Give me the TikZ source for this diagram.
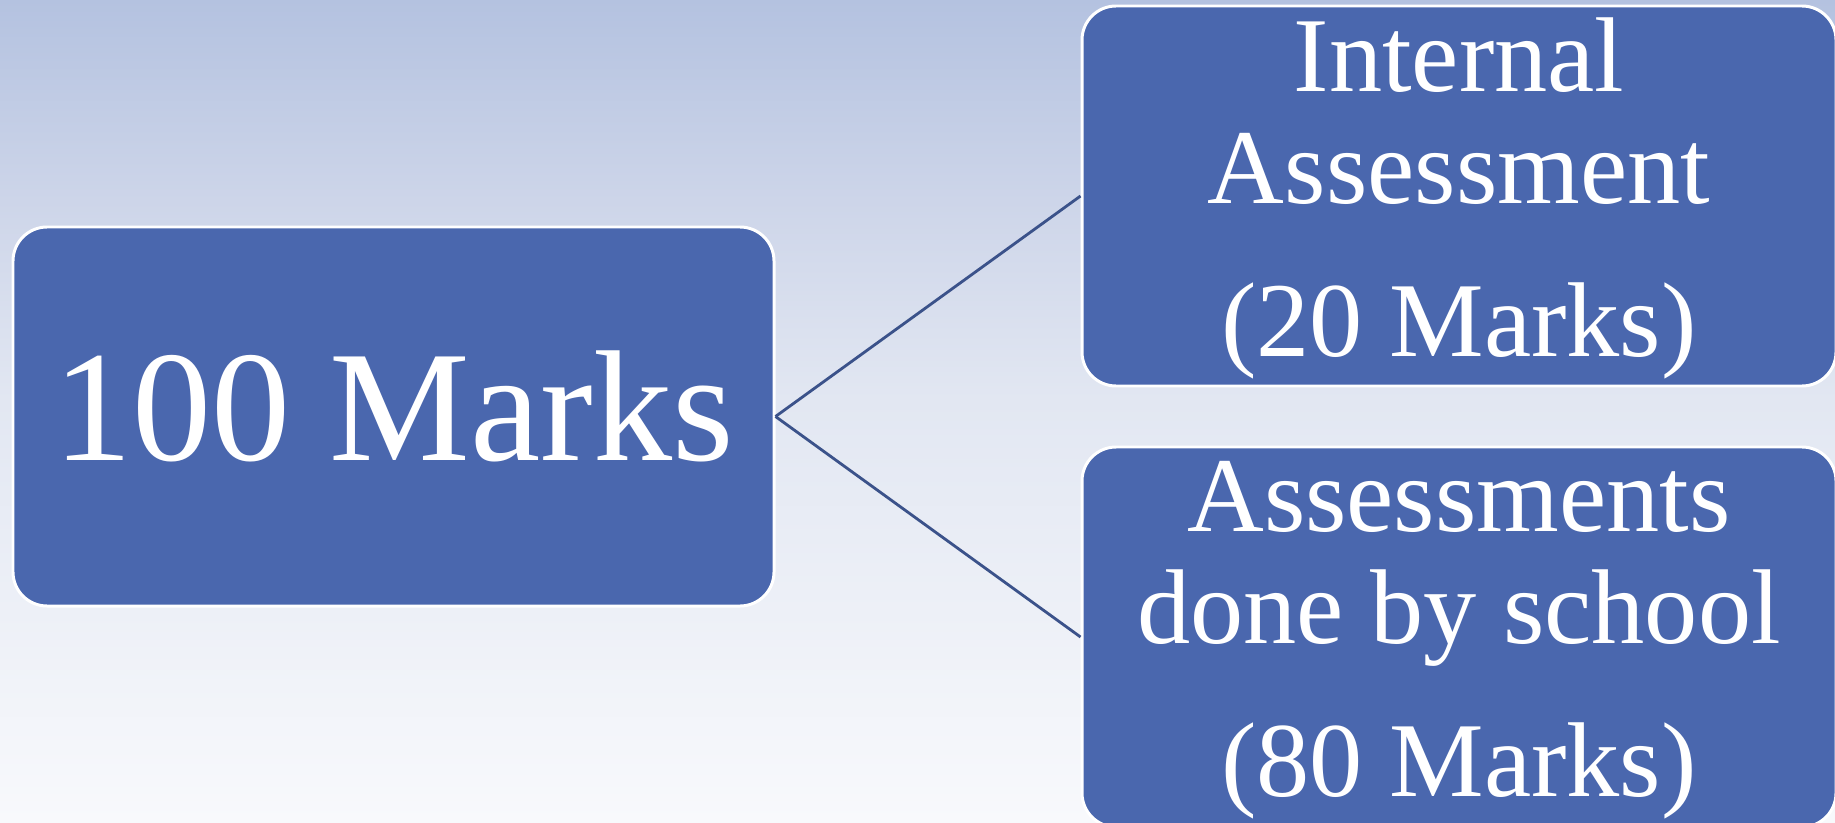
\documentclass[tikz,border=0pt]{standalone}
\usepackage{fontspec}
\setmainfont{Liberation Serif}
\usepackage{xcolor}
\usetikzlibrary{positioning}

\definecolor{boxblue}{RGB}{74,103,174}
\definecolor{linkblue}{RGB}{59,82,138}
\definecolor{bgtop}{RGB}{180,194,224}
\definecolor{bghigh}{RGB}{205,213,233}
\definecolor{bglow}{RGB}{226,231,242}
\definecolor{bgbot}{RGB}{248,249,252}
\pgfdeclareverticalshading{slidebg}{100bp}{color(0bp)=(bgbot); color(25bp)=(bgbot); color(50.7bp)=(bglow); color(62.8bp)=(bghigh); color(75bp)=(bgtop); color(100bp)=(bgtop)}

\tikzset{
  markbox/.style={draw=white, line width=1.7pt, fill=boxblue, rounded corners=0.68cm,
    text=white, align=center, inner sep=0pt},
  link/.style={draw=linkblue, line width=1.6pt}
}

\begin{document}
\begin{tikzpicture}
\useasboundingbox (0,0) rectangle (36.7,16.44);
\shade[shading=slidebg](0,0) rectangle (36.7,16.44);
\node[markbox, minimum width=15.22cm, minimum height=7.58cm, text depth=12pt,
  font=\fontsize{90}{100}\selectfont] (total) at (7.87,8.11) {100 Marks};
\node[markbox, minimum width=15.08cm, minimum height=7.6cm,
  font=\fontsize{60.5}{63.4}\selectfont] (internal) at (29.18,12.52)
  {\rule{0pt}{45pt}Internal\\Assessment\\[24pt](20 Marks)};
\node[markbox, minimum width=15.08cm, minimum height=7.6cm,
  font=\fontsize{60.5}{63.4}\selectfont] (school) at (29.18,3.70)
  {\rule{0pt}{44pt}Assessments\\done by school\\[24pt](80 Marks)};
\draw[link](total.east) -- (internal.west);
\draw[link](total.east) -- (school.west);
\end{tikzpicture}
\end{document}
